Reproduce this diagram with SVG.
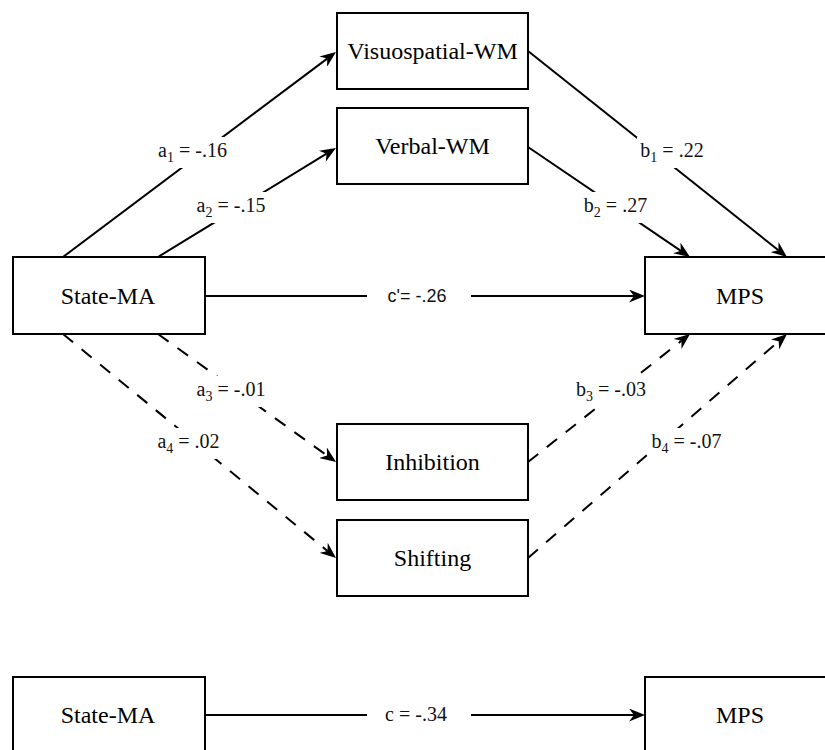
<svg xmlns="http://www.w3.org/2000/svg" width="825" height="750" viewBox="0 0 825 750">
<defs>
<marker id="arr" viewBox="0 0 16 13" refX="5" refY="6.5" markerWidth="16" markerHeight="13" markerUnits="userSpaceOnUse" orient="auto">
<path d="M0,0 L16,6.5 L0,13 L5,6.5 z" fill="#000"/>
</marker>
</defs>
<g id="connectors" fill="none" stroke="#000" stroke-width="2">
<line x1="63" y1="257" x2="327.2" y2="58.6" marker-end="url(#arr)"/>
<line x1="158" y1="257" x2="326.6" y2="153.7" marker-end="url(#arr)"/>
<line x1="528" y1="51" x2="778.4" y2="250.2" marker-end="url(#arr)"/>
<line x1="528" y1="147" x2="680.9" y2="250.8" marker-end="url(#arr)"/>
<line x1="205" y1="296" x2="367" y2="296"/>
<line x1="471" y1="296" x2="634" y2="296" marker-end="url(#arr)"/>
<line x1="158" y1="334" x2="327.1" y2="455.6" stroke-dasharray="13 11" marker-end="url(#arr)"/>
<line x1="63" y1="334" x2="327.5" y2="551" stroke-dasharray="13 11" marker-end="url(#arr)"/>
<line x1="528" y1="462" x2="681.4" y2="340.8" stroke-dasharray="13 11" marker-end="url(#arr)"/>
<line x1="528" y1="558" x2="778.7" y2="341.2" stroke-dasharray="13 11" marker-end="url(#arr)"/>
<line x1="205" y1="715" x2="367" y2="715"/>
<line x1="471" y1="715" x2="634" y2="715" marker-end="url(#arr)"/>
</g>
<g id="labels" font-family="Liberation Serif" font-size="20" fill="#111" text-anchor="middle">
<rect fill="#fff" x="154" y="137" width="77" height="31"/>
<text x="192.5" y="157">a<tspan dy="5" font-size="14">1</tspan><tspan dy="-5"> = -.16</tspan></text>
<rect fill="#fff" x="193" y="192" width="76" height="31"/>
<text x="231" y="212">a<tspan dy="5" font-size="14">2</tspan><tspan dy="-5"> = -.15</tspan></text>
<rect fill="#fff" x="637" y="137" width="70" height="31"/>
<text x="672" y="157">b<tspan dy="5" font-size="14">1</tspan><tspan dy="-5"> = .22</tspan></text>
<rect fill="#fff" x="581" y="192" width="69" height="31"/>
<text x="615.5" y="212">b<tspan dy="5" font-size="14">2</tspan><tspan dy="-5"> = .27</tspan></text>
<text x="417" y="302" font-family="Liberation Sans" font-size="18">c'= -.26</text>
<rect fill="#fff" x="193" y="376" width="76" height="31"/>
<text x="231" y="396">a<tspan dy="5" font-size="14">3</tspan><tspan dy="-5"> = -.01</tspan></text>
<rect fill="#fff" x="154" y="428" width="69" height="31"/>
<text x="188.5" y="448">a<tspan dy="5" font-size="14">4</tspan><tspan dy="-5"> = .02</tspan></text>
<rect fill="#fff" x="573" y="376" width="76" height="31"/>
<text x="611" y="396">b<tspan dy="5" font-size="14">3</tspan><tspan dy="-5"> = -.03</tspan></text>
<rect fill="#fff" x="648" y="428" width="77" height="31"/>
<text x="686.5" y="448">b<tspan dy="5" font-size="14">4</tspan><tspan dy="-5"> = -.07</tspan></text>
<text x="416" y="721">c = -.34</text>
</g>
<g font-family="Liberation Serif" font-size="24" text-anchor="middle">
<g id="visuospatial"><rect fill="#fff" stroke="#000" stroke-width="2" x="337" y="13" width="191" height="76"/><text x="432.5" y="59">Visuospatial-WM</text></g>
<g id="verbal"><rect fill="#fff" stroke="#000" stroke-width="2" x="337" y="108" width="191" height="76"/><text x="432.5" y="154">Verbal-WM</text></g>
<g id="statema"><rect fill="#fff" stroke="#000" stroke-width="2" x="13" y="257" width="192" height="77"/><text x="108" y="304">State-MA</text></g>
<g id="mps"><rect fill="#fff" stroke="#000" stroke-width="2" x="645" y="257" width="192" height="77"/><text x="740" y="304">MPS</text></g>
<g id="inhibition"><rect fill="#fff" stroke="#000" stroke-width="2" x="337" y="424" width="191" height="76"/><text x="432.5" y="470">Inhibition</text></g>
<g id="shifting"><rect fill="#fff" stroke="#000" stroke-width="2" x="337" y="520" width="191" height="76"/><text x="432.5" y="566">Shifting</text></g>
<g id="statema2"><rect fill="#fff" stroke="#000" stroke-width="2" x="13" y="677" width="192" height="77"/><text x="108" y="723">State-MA</text></g>
<g id="mps2"><rect fill="#fff" stroke="#000" stroke-width="2" x="645" y="677" width="192" height="77"/><text x="740" y="723">MPS</text></g>
</g>
</svg>
